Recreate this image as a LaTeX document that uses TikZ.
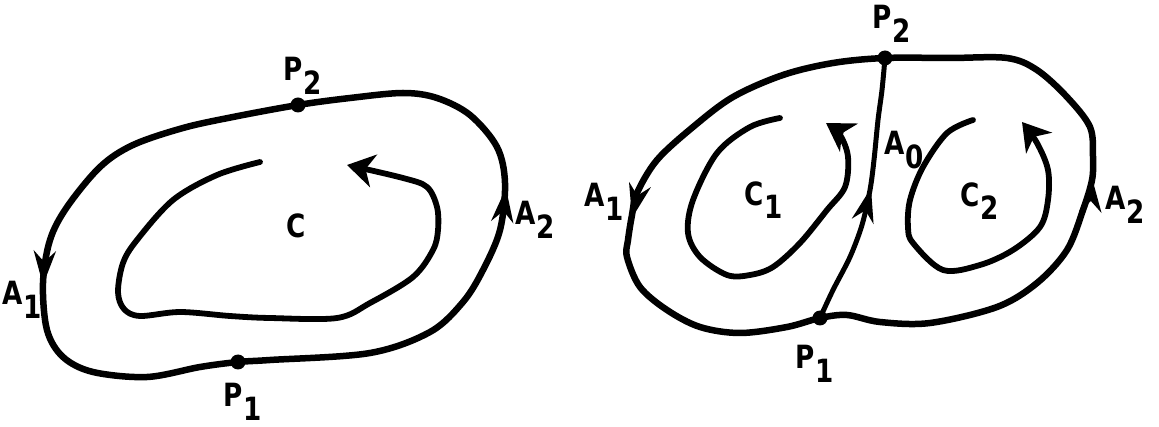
\documentclass[tikz,border=0pt]{standalone}
\usepackage{fontspec}
\setmainfont[FakeStretch=0.82]{DejaVu Sans}
\usetikzlibrary{arrows.meta}
\newcommand{\lowsub}[1]{\kern0.03em\raisebox{-0.42em}{#1}}
\begin{document}
\begin{tikzpicture}[x=1pt,y=-1pt,
  curve/.style={line width=6.5pt, line cap=round, line join=round},
  innercurve/.style={line width=5.8pt, line cap=round, line join=round},
  dot/.style={circle, fill, inner sep=0pt, minimum size=15pt},
  lbl/.style={font=\fontsize{32}{32}\selectfont\bfseries, inner sep=0pt},
  outtip/.style={-{Stealth[length=34pt,width=22pt,inset=11pt]}, line width=5pt},
  intip/.style={-{Stealth[length=27pt,width=33pt,inset=8pt]}},
]
\useasboundingbox (0,0) rectangle (1159,427);

% ---------- left figure ----------
\draw[curve] plot[smooth cycle, tension=0.55] coordinates {(298,105) (350,98) (403,93) (437,98) (470,115) (497,147) (505,183) (500,230) (483,270) (463,302) (430,332) (370,353) (270,360) (238,362) (200,367) (147,377) (93,372) (63,357) (47,330) (43,283) (50,240) (67,207) (100,167) (133,145) (183,128) (233,117)};
\draw[outtip] (44,266) -- (43,285);
\draw[outtip] (504,206) -- (506,188);

\draw[innercurve, intip] plot[smooth, tension=0.55] coordinates {(260,162) (217,175) (173,200) (137,240) (123,263) (118,292) (124,309) (140,316) (180,312) (230,316) (270,318) (337,318) (370,303) (413,277) (433,250) (438,230) (437,207) (427,187) (403,178) (347,165)};

\node[dot] (lP2) at (298,105) {};
\node[dot] (lP1) at (238,362) {};

\node[lbl] (lP2t) at (303,76) {P\lowsub{2}};
\node[lbl] (lP1t) at (243,402) {P\lowsub{1}};
\node[lbl] (lA1t) at (22,300) {A\lowsub{1}};
\node[lbl] (lA2t) at (535,220) {A\lowsub{2}};
\node[lbl] (lCt)  at (296,226) {C};

% ---------- right figure ----------
\draw[curve] plot[smooth cycle, tension=0.55] coordinates {(885,58) (950,58) (1007,58) (1037,70) (1067,97) (1090,127) (1093,157) (1092,180) (1083,210) (1067,250) (1037,283) (997,307) (930,323) (880,322) (847,315) (820,318) (787,327) (740,333) (700,327) (667,310) (640,287) (627,257) (628,240) (632,215) (637,193) (657,160) (693,127) (733,97) (783,75) (833,63)};
\draw[outtip] (637,197) -- (632,218);
\draw[outtip] (1091,198) -- (1092,178);

\draw[curve, line width=5pt] plot[smooth, tension=0.5] coordinates {(820,318) (833,290) (850,257) (862,225) (870,190) (874,160) (878,120) (882,90) (885,58)};
\draw[outtip] (866,208) -- (871,188);

\draw[innercurve, intip] plot[smooth, tension=0.55] coordinates {(780,118) (750,127) (717,153) (693,200) (688,233) (700,257) (727,275) (750,275) (773,267) (800,243) (827,210) (845,187) (848,157) (840,135) (826,123)};
\draw[innercurve, intip] plot[smooth, tension=0.55] coordinates {(973,120) (947,133) (923,167) (910,200) (908,227) (913,243) (943,270) (980,265) (1013,250) (1040,227) (1048,200) (1048,170) (1037,143) (1022,122)};

\node[dot] (rP2) at (885,58) {};
\node[dot] (rP1) at (820,318) {};

\node[lbl] (rP2t) at (892,24) {P\lowsub{2}};
\node[lbl] (rP1t) at (815,364) {P\lowsub{1}};
\node[lbl] (rA1t) at (604,202) {A\lowsub{1}};
\node[lbl] (rA0t) at (904,150) {A\lowsub{0}};
\node[lbl] (rC1t) at (764,200) {C\lowsub{1}};
\node[lbl] (rC2t) at (980,201) {C\lowsub{2}};
\node[lbl] (rA2t) at (1125,205) {A\lowsub{2}};
\end{tikzpicture}
\end{document}
